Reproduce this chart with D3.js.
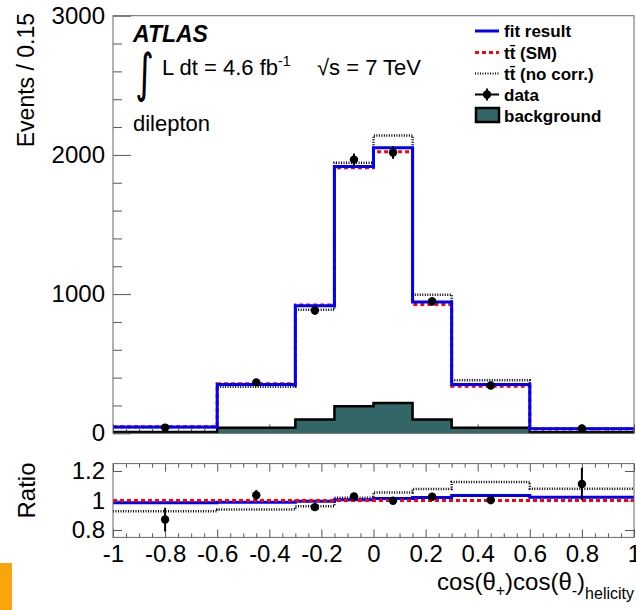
<!DOCTYPE html>
<html>
<head>
<meta charset="utf-8">
<title>cos cos helicity</title>
<style>
body { margin: 0; background: #fff; }
svg { display: block; font-family: "Liberation Sans", Arial, Helvetica, sans-serif; }
.axis text { font-size: 24px; fill: #000; }
.axis line { stroke: #555; stroke-width: 1px; }
.axis .domain { display: none; }
.leg { font-size: 17px; font-weight: bold; }
</style>
</head>
<body>
<svg width="636" height="610"></svg>
<script src="https://d3js.org/d3.v7.min.js"></script>
<script>

// bin edges of cos(theta+)cos(theta-) in the helicity basis
var edges = [-1, -0.6, -0.3, -0.15, 0, 0.15, 0.3, 0.6, 1];
var binCenters = [-0.8, -0.45, -0.225, -0.075, 0.075, 0.225, 0.45, 0.8];

// main panel, events per bin
var fitResult   = [45, 351, 917, 1917, 2051, 943, 350, 33];
var ttbarSM     = [47, 356, 922, 1908, 2022, 925, 338, 31];
var ttbarNoCorr = [44, 334, 887, 1944, 2139, 996, 382, 34];
var dataValues  = [41, 366, 882, 1966, 2017, 948, 343, 35];
var dataErrors  = [7, 19, 30, 44, 45, 31, 19, 6];
var background  = [10, 40, 100, 195, 218, 100, 40, 8];

// ratio panel
var ratioFit     = [0.984, 0.988, 0.995, 1.005, 1.014, 1.02, 1.034, 1.022];
var ratioSM      = [1, 1, 1, 1, 1, 1, 1, 1];
var ratioNoCorr  = [0.927, 0.939, 0.961, 1.018, 1.055, 1.078, 1.126, 1.08];
var ratioData    = [0.871, 1.036, 0.955, 1.027, 0.998, 1.025, 1.004, 1.112];
var ratioDataErr = [0.08, 0.035, 0.02, 0.02, 0.02, 0.02, 0.03, 0.11];

var xTicks = [-1, -0.8, -0.6, -0.4, -0.2, 0, 0.2, 0.4, 0.6, 0.8, 1];
var yTicks = [0, 1000, 2000, 3000];
var ratioTicks = [0.8, 1, 1.2];

var svg = d3.select("svg");
var left = 113, right = 634;

var x  = d3.scaleLinear().domain([-1, 1]).range([left, right]);
var y  = d3.scaleLinear().domain([0, 3000]).range([433.3, 15.7]);
var ry = d3.scaleLinear().domain([0.75, 1.25]).range([537.4, 463.6]);

function steps(vals) {
  var pts = vals.map(function(v, i) { return [edges[i], v]; });
  pts.push([edges[edges.length - 1], vals[vals.length - 1]]);
  return pts;
}
function lineFor(ys) {
  return d3.line().x(function(d) { return x(d[0]); })
    .y(function(d) { return ys(d[1]); }).curve(d3.curveStepAfter);
}
function fmt(d) {
  var v = Math.round(d * 10) / 10;
  return String(v);
}
function minorVals(a, b, step, major) {
  return d3.range(a, b + step / 2, step).filter(function(v) {
    return !major.some(function(m) { return Math.abs(m - v) < 1e-6; });
  });
}

// orange strip bottom left
svg.append("rect").attr("x", 0).attr("y", 563).attr("width", 12).attr("height", 47)
  .attr("fill", "#f9a50c");

// ---------- main panel ----------
var main = svg.append("g");

main.append("g").attr("class", "axis").attr("transform", "translate(0,433.3)")
  .call(d3.axisBottom(x).tickValues(xTicks).tickSize(-9).tickFormat(""));
main.append("g").attr("class", "axis").attr("transform", "translate(0,433.3)")
  .call(d3.axisBottom(x).tickValues(minorVals(-1, 1, 0.05, xTicks)).tickSize(-4.5).tickFormat(""));

var bgArea = d3.area().x(function(d) { return x(d[0]); })
  .y0(y(0)).y1(function(d) { return y(d[1]); }).curve(d3.curveStepAfter);
main.append("path").datum(steps(background)).attr("d", bgArea)
  .attr("fill", "#336666");
main.append("path").datum(steps(background)).attr("d", lineFor(y))
  .attr("fill", "none").attr("stroke", "#000").attr("stroke-width", 2.5);

main.append("path").datum(steps(ttbarNoCorr)).attr("d", lineFor(y))
  .attr("fill", "none").attr("stroke", "#000").attr("stroke-width", 2.5)
  .attr("stroke-dasharray", "1,1.5");
main.append("path").datum(steps(ttbarSM)).attr("d", lineFor(y))
  .attr("fill", "none").attr("stroke", "#ff0000").attr("stroke-width", 3)
  .attr("stroke-dasharray", "4,3");
main.append("path").datum(steps(fitResult)).attr("d", lineFor(y))
  .attr("fill", "none").attr("stroke", "#0000ff").attr("stroke-width", 3);

var pts = main.selectAll(".pt").data(dataValues).enter().append("g").attr("class", "pt");
pts.append("line")
  .attr("x1", function(d, i) { return x(binCenters[i]); })
  .attr("x2", function(d, i) { return x(binCenters[i]); })
  .attr("y1", function(d, i) { return y(d - dataErrors[i]); })
  .attr("y2", function(d, i) { return y(d + dataErrors[i]); })
  .attr("stroke", "#000").attr("stroke-width", 2);
pts.append("circle")
  .attr("cx", function(d, i) { return x(binCenters[i]); })
  .attr("cy", function(d) { return y(d); })
  .attr("r", 4.2).attr("fill", "#000");

main.append("g").attr("class", "axis").attr("transform", "translate(" + left + ",0)")
  .call(d3.axisLeft(y).tickValues(yTicks).tickSize(-18).tickPadding(8).tickFormat(d3.format("d")));
main.append("g").attr("class", "axis").attr("transform", "translate(" + left + ",0)")
  .call(d3.axisLeft(y).tickValues(minorVals(0, 3000, 200, yTicks)).tickSize(-9).tickFormat(""));

main.append("rect").attr("x", left).attr("y", y(3000)).attr("width", right - left)
  .attr("height", y(0) - y(3000)).attr("fill", "none").attr("stroke", "#666");

svg.append("text").attr("transform", "translate(34,13) rotate(-90)")
  .attr("text-anchor", "end").style("font-size", "23px").text("Events / 0.15");

// labels
svg.append("text").attr("x", 133).attr("y", 42).style("font-size", "23px")
  .style("font-weight", "bold").style("font-style", "italic").text("ATLAS");
svg.append("text").attr("transform", "translate(135,91) scale(1,1.45)")
  .style("font-family", "DejaVu Sans").style("font-size", "36px").text("\u222B");
var lum = svg.append("text").attr("x", 162).attr("y", 75).style("font-size", "22px");
lum.append("tspan").text("L dt = 4.6 fb");
lum.append("tspan").attr("dy", -9).style("font-size", "14px").text("-1");
svg.append("text").attr("x", 317).attr("y", 75).style("font-size", "22px").text("\u221As = 7 TeV");
svg.append("text").attr("x", 133).attr("y", 131).style("font-size", "22px").text("dilepton");

// legend
var legY = [37, 58.5, 79.5, 100.5, 122];
var legNames = ["fit result", "t\u0074\u0304 (SM)", "t\u0074\u0304 (no corr.)", "data", "background"];
var leg = svg.append("g");
leg.append("line").attr("x1", 475).attr("x2", 499).attr("y1", legY[0] - 6).attr("y2", legY[0] - 6)
  .attr("stroke", "#0000ff").attr("stroke-width", 3);
leg.append("line").attr("x1", 475).attr("x2", 499).attr("y1", legY[1] - 6).attr("y2", legY[1] - 6)
  .attr("stroke", "#ff0000").attr("stroke-width", 3).attr("stroke-dasharray", "4,3");
leg.append("line").attr("x1", 475).attr("x2", 499).attr("y1", legY[2] - 6).attr("y2", legY[2] - 6)
  .attr("stroke", "#000").attr("stroke-width", 2).attr("stroke-dasharray", "1,1.5");
leg.append("line").attr("x1", 475).attr("x2", 499).attr("y1", legY[3] - 6).attr("y2", legY[3] - 6)
  .attr("stroke", "#000").attr("stroke-width", 2);
leg.append("line").attr("x1", 487).attr("x2", 487).attr("y1", legY[3] - 12).attr("y2", legY[3])
  .attr("stroke", "#000").attr("stroke-width", 2);
leg.append("circle").attr("cx", 487).attr("cy", legY[3] - 6).attr("r", 4.2).attr("fill", "#000");
leg.append("rect").attr("x", 476).attr("y", legY[4] - 14).attr("width", 23).attr("height", 14)
  .attr("fill", "#336666").attr("stroke", "#000").attr("stroke-width", 2.5);
leg.selectAll(".lt").data(legNames).enter().append("text").attr("class", "leg")
  .attr("x", 504).attr("y", function(d, i) { return legY[i]; }).text(function(d) { return d; });

// ---------- ratio panel ----------
var rat = svg.append("g");

rat.append("g").attr("class", "axis").attr("transform", "translate(0,537.4)")
  .call(d3.axisBottom(x).tickValues(xTicks).tickSize(-8).tickPadding(8).tickFormat(fmt));
rat.append("g").attr("class", "axis").attr("transform", "translate(0,537.4)")
  .call(d3.axisBottom(x).tickValues(minorVals(-1, 1, 0.05, xTicks)).tickSize(-4).tickFormat(""));
rat.append("g").attr("class", "axis").attr("transform", "translate(0,463.6)")
  .call(d3.axisTop(x).tickValues(xTicks).tickSize(-8).tickFormat(""));
rat.append("g").attr("class", "axis").attr("transform", "translate(0,463.6)")
  .call(d3.axisTop(x).tickValues(minorVals(-1, 1, 0.05, xTicks)).tickSize(-4).tickFormat(""));
rat.append("g").attr("class", "axis").attr("transform", "translate(" + left + ",0)")
  .call(d3.axisLeft(ry).tickValues(ratioTicks).tickSize(-9).tickPadding(8).tickFormat(fmt));
rat.append("g").attr("class", "axis").attr("transform", "translate(" + right + ",0)")
  .call(d3.axisRight(ry).tickValues(ratioTicks).tickSize(-9).tickFormat(""));

rat.append("path").datum(steps(ratioNoCorr)).attr("d", lineFor(ry))
  .attr("fill", "none").attr("stroke", "#000").attr("stroke-width", 2.5)
  .attr("stroke-dasharray", "1,1.5");
rat.append("path").datum(steps(ratioFit)).attr("d", lineFor(ry))
  .attr("fill", "none").attr("stroke", "#0000ff").attr("stroke-width", 3);
rat.append("path").datum(steps(ratioSM)).attr("d", lineFor(ry))
  .attr("fill", "none").attr("stroke", "#ff0000").attr("stroke-width", 3)
  .attr("stroke-dasharray", "4,3");

var rp = rat.selectAll(".rp").data(ratioData).enter().append("g").attr("class", "rp");
rp.append("line")
  .attr("x1", function(d, i) { return x(binCenters[i]); })
  .attr("x2", function(d, i) { return x(binCenters[i]); })
  .attr("y1", function(d, i) { return ry(d - ratioDataErr[i]); })
  .attr("y2", function(d, i) { return ry(d + ratioDataErr[i]); })
  .attr("stroke", "#000").attr("stroke-width", 2);
rp.append("circle")
  .attr("cx", function(d, i) { return x(binCenters[i]); })
  .attr("cy", function(d) { return ry(d); })
  .attr("r", 4.2).attr("fill", "#000");

rat.append("rect").attr("x", left).attr("y", ry(1.25)).attr("width", right - left)
  .attr("height", ry(0.75) - ry(1.25)).attr("fill", "none").attr("stroke", "#666");

svg.append("text").attr("transform", "translate(35,490.5) rotate(-90)")
  .attr("text-anchor", "middle").style("font-size", "24px").text("Ratio");

var xt = svg.append("text").attr("x", 634).attr("y", 590).attr("text-anchor", "end")
  .style("font-size", "24px");
xt.append("tspan").text("cos(\u03B8");
xt.append("tspan").attr("dy", 6).style("font-size", "16px").text("+");
xt.append("tspan").attr("dy", -6).text(")cos(\u03B8");
xt.append("tspan").attr("dy", 6).style("font-size", "16px").text("-");
xt.append("tspan").attr("dy", -6).text(")");
xt.append("tspan").attr("dy", 9).style("font-size", "16px").text("helicity");

</script>
</body>
</html>
